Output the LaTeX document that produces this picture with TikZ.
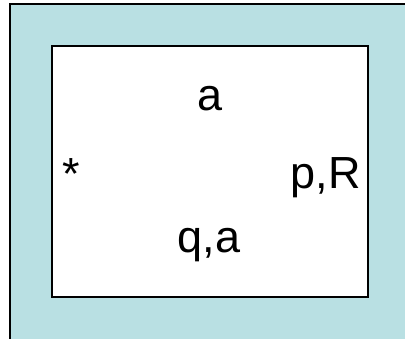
\documentclass[tikz,border=0pt]{standalone}
\usepackage{fontspec}
\setmainfont{Liberation Sans}
\definecolor{outerblue}{RGB}{185,224,227}
\begin{document}
\begin{tikzpicture}[x=1pt,y=-1pt,
  frame/.style={draw=black,line width=1.5pt},
  lbl/.style={font=\fontsize{45}{50}\selectfont,inner sep=0pt,anchor=base}]
\useasboundingbox (0,0) rectangle (405,338);
\clip (0,0) rectangle (405,338);
\fill[white] (0,0) rectangle (405,338);
\draw[frame,fill=outerblue] (10,4) rectangle (420,350);
\draw[frame,fill=white] (52,46) rectangle (368,297);
\node[lbl] (a) at (210,110) {a};
\node[lbl,anchor=base west] (star) at (62,189) {*};
\node[lbl,anchor=base east] (pR) at (361,188) {p,R};
\node[lbl] (qa) at (209,252) {q,a};
\end{tikzpicture}
\end{document}
